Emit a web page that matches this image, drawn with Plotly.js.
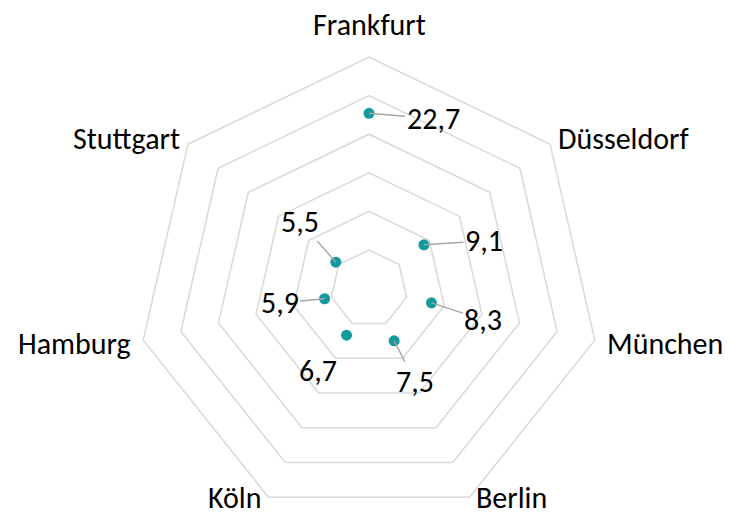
<!DOCTYPE html>
<html>
<head>
<meta charset="utf-8">
<script src="https://cdn.plot.ly/plotly-3.0.1.min.js"></script>
<style>
html,body{margin:0;padding:0;overflow:hidden;background:#fff;}
#chart{width:729px;height:530px;}
</style>
</head>
<body>
<div id="chart"></div>
<script>
var cities = ["Frankfurt","Düsseldorf","München","Berlin","Köln","Hamburg","Stuttgart"];
var values = [22.7, 9.1, 8.3, 7.5, 6.7, 5.9, 5.5];
var valueLabels = ["22,7","9,1","8,3","7,5","6,7","5,9","5,5"];
// value label offsets in pixels from the point (x right, y down)
var labelDx = [64, 60, 52, 21, -29, -45, -36];
var labelDy = [5, -4, 17, 41, 35, 4, -41];
var leader = [true, true, true, true, false, true, true];
// category label placement relative to the outer vertex
var catAnchor = ["center","left","left","left","right","right","right"];
var catDx = [0, 6, 10, 5, -5, -10, -6];
var catDy = [-32, -6, 3, 0, 0, 3, -6];

var W = 729, H = 530;
var cxPx = 369, cyPx = 288.6, Rpx = 231.6;
var rMax = 30;
var domX = [(cxPx - Rpx) / W, (cxPx + Rpx) / W];
var domY = [(H - cyPx - Rpx) / H, (H - cyPx + Rpx) / H];

var font = "Carlito, Calibri, Lato, sans-serif";
var fsize = 30;

function angOf(i) { return (90 - i * 360 / cities.length) * Math.PI / 180; }

var annotations = [];
cities.forEach(function (c, i) {
  var ang = angOf(i);
  var rr = values[i] / rMax * Rpx;
  var px = cxPx + rr * Math.cos(ang);
  var py = cyPx - rr * Math.sin(ang);
  var a = {
    xref: "paper", yref: "paper",
    x: px / W, y: (H - py) / H,
    text: valueLabels[i],
    font: {family: font, size: fsize, color: "#000"},
    xanchor: "center", yanchor: "middle"
  };
  if (leader[i]) {
    a.showarrow = true;
    a.arrowhead = 0;
    a.arrowwidth = 1.5;
    a.arrowcolor = "#a6a6a6";
    a.standoff = 0;
    a.ax = labelDx[i];
    a.ay = labelDy[i];
  } else {
    a.showarrow = false;
    a.xshift = labelDx[i];
    a.yshift = -labelDy[i];
  }
  annotations.push(a);

  // category label at the outer vertex
  var vx = cxPx + Rpx * Math.cos(ang);
  var vy = cyPx - Rpx * Math.sin(ang);
  annotations.push({
    xref: "paper", yref: "paper",
    x: vx / W, y: (H - vy) / H,
    text: c, showarrow: false,
    xanchor: catAnchor[i], yanchor: "middle",
    xshift: catDx[i], yshift: -catDy[i],
    font: {family: font, size: fsize, color: "#000"}
  });
});

var trace = {
  type: "scatterpolar",
  r: values,
  theta: cities,
  mode: "markers",
  marker: {color: "#139a9c", size: 11},
  hoverinfo: "skip",
  showlegend: false
};

var layout = {
  width: W, height: H,
  margin: {l: 0, r: 0, t: 0, b: 0},
  paper_bgcolor: "#fff",
  showlegend: false,
  font: {family: font, size: fsize, color: "#000"},
  polar: {
    domain: {x: domX, y: domY},
    bgcolor: "#fff",
    gridshape: "linear",
    radialaxis: {
      range: [0, rMax], dtick: 5, tick0: 0,
      showticklabels: false, ticks: "", showline: false,
      gridcolor: "#d9d9d9", gridwidth: 1.5
    },
    angularaxis: {
      rotation: 90, direction: "clockwise",
      showgrid: false, ticks: "", showline: true,
      showticklabels: false,
      linecolor: "#d9d9d9", linewidth: 1.5
    }
  },
  annotations: annotations
};

Plotly.newPlot("chart", [trace], layout, {displayModeBar: false, staticPlot: true});
</script>
</body>
</html>
